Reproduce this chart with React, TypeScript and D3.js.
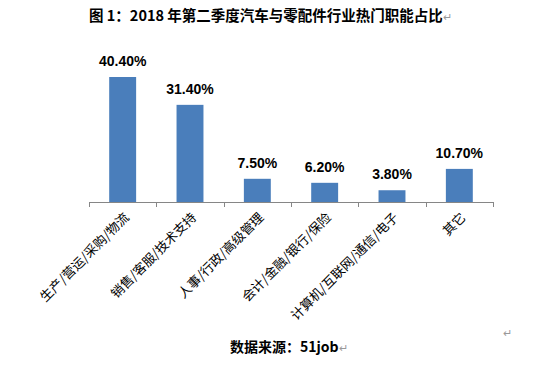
import React from "react";
import * as d3 from "d3";

const categories = [
  "生产/营运/采购/物流",
  "销售/客服/技术支持",
  "人事/行政/高级管理",
  "会计/金融/银行/保险",
  "计算机/互联网/通信/电子",
  "其它",
];
const values = [40.4, 31.4, 7.5, 6.2, 3.8, 10.7];
const valueLabels = ["40.40%", "31.40%", "7.50%", "6.20%", "3.80%", "10.70%"];
const titleText = "图 1：2018 年第二季度汽车与零配件行业热门职能占比";
const sourceText = "数据来源：51job";

const W = 544;
const H = 368;

export default function App() {
  const x = d3.scaleBand<string>().domain(categories).range([89, 493]).paddingInner(0.6).paddingOuter(0.3);
  const y = d3.scaleLinear().domain([0, 45]).range([202, 202 - 45 * 3.094]);
  const step = x.step();
  const bounds = categories.map((c) => (x(c) as number) - (step * 0.6) / 2);
  bounds.push(493);
  const cjk = "'Noto Sans CJK SC', 'Noto Sans', sans-serif";
  return (
    <svg width={W} height={H} style={{ position: "absolute", left: 0, top: 0, background: "#fff" }}>
      <rect width={W} height={H} fill="#fff" />
      <text x={89} y={21} fontFamily={cjk} fontWeight="bold" fontSize={14.5} fill="#000">
        {titleText}
        <tspan fill="#999" fontWeight="normal" fontSize={11}>↵</tspan>
      </text>
      {categories.map((c, i) => (
        <rect key={c} x={x(c)} y={y(values[i])} width={x.bandwidth()} height={y(0) - y(values[i])} fill="#4A7EBB" />
      ))}
      {categories.map((c, i) => (
        <text
          key={c + "v"}
          x={(x(c) as number) + x.bandwidth() / 2}
          y={y(values[i]) - 11}
          textAnchor="middle"
          fontFamily="Arial, 'Liberation Sans', sans-serif"
          fontWeight="bold"
          fontSize={14}
          fill="#000"
        >
          {valueLabels[i]}
        </text>
      ))}
      <line x1={89} x2={493} y1={202.5} y2={202.5} stroke="#868686" strokeWidth={1} />
      {bounds.map((b, i) => (
        <line key={i} x1={Math.round(b) + 0.5} x2={Math.round(b) + 0.5} y1={202} y2={207} stroke="#868686" />
      ))}
      {categories.map((c) => {
        const cx = (x(c) as number) + x.bandwidth() / 2;
        return (
          <text
            key={c + "l"}
            transform={`translate(${cx + 4},${215}) rotate(-45)`}
            textAnchor="end"
            dy="0.35em"
            fontFamily={cjk}
            fontSize={13}
            fill="#000"
          >
            {c}
          </text>
        );
      })}
      <text x={230} y={352} fontFamily={cjk} fontWeight="bold" fontSize={14} fill="#000">
        {sourceText}
        <tspan fill="#999" fontWeight="normal" fontSize={11}>↵</tspan>
      </text>
      <text x={503} y={337} fontSize={11} fill="#999" fontFamily={cjk}>↵</text>
    </svg>
  );
}
